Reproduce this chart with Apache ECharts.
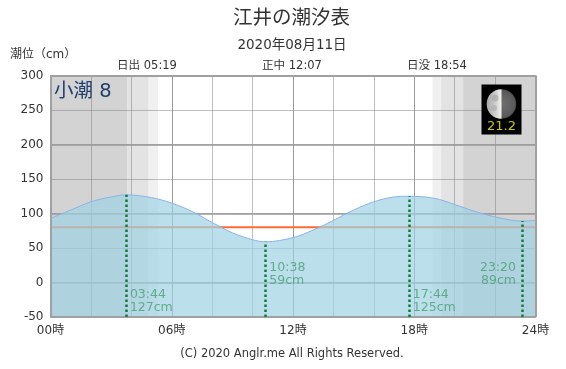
<!DOCTYPE html>
<html>
<head>
<meta charset="utf-8">
<style>
html,body{margin:0;padding:0;background:#fff;}
#main{width:566px;height:369px;}
</style>
<script src="https://cdn.jsdelivr.net/npm/echarts@6/dist/echarts.min.js"></script>
</head>
<body>
<div id="main"></div>
<script>
var FONT = '"DejaVu Sans","Noto Sans CJK JP",sans-serif';

// hours of the day, tide level in cm
var tideHours  = [0, 1, 2, 3, 3.73, 5, 6, 7, 8, 9, 10, 10.63, 12, 13, 14, 15, 16, 17, 17.73, 19, 20, 21, 22, 23.33, 24];
var tideLevels = [93, 105, 117, 124, 127, 123, 115, 103, 87, 72, 62, 59, 65, 76, 90, 105, 117, 124, 125, 122, 113, 103, 95, 89, 90];

var extremeLabels = ['03:44', '10:38', '17:44', '23:20'];
var extremeHours  = [3.73, 10.63, 17.73, 23.33];
var extremeLevels = [127, 59, 125, 89];

// twilight steps around sunrise and sunset
var morningSteps = [3.79, 4.86, 5.32];
var eveningSteps = [18.9, 19.33, 20.42];

var hourTicks = ['00時', '06時', '12時', '18時', '24時'];
var solidLevels = [0, 100, 200];
var borderLevels = [-50, 300];
var borderHours = [0, 24];
var thresholdLevel = 80;

var shades = ['#d3d3d3', '#e3e3e3', '#f0f0f0'];

var bandData = [
	[{xAxis:0, itemStyle:{color:shades[0]}}, {xAxis:morningSteps[0]}],
	[{xAxis:morningSteps[0], itemStyle:{color:shades[1]}}, {xAxis:morningSteps[1]}],
	[{xAxis:morningSteps[1], itemStyle:{color:shades[2]}}, {xAxis:morningSteps[2]}],
	[{xAxis:eveningSteps[0], itemStyle:{color:shades[2]}}, {xAxis:eveningSteps[1]}],
	[{xAxis:eveningSteps[1], itemStyle:{color:shades[1]}}, {xAxis:eveningSteps[2]}],
	[{xAxis:eveningSteps[2], itemStyle:{color:shades[0]}}, {xAxis:24}]
];

var tideData = [];
for (var i = 0; i < tideHours.length; i++) {
	tideData.push([tideHours[i], tideLevels[i]]);
}

var dropLines = [], extremeData = [];
for (var j = 0; j < extremeHours.length; j++) {
	dropLines.push([{coord:[extremeHours[j], -50]}, {coord:[extremeHours[j], extremeLevels[j]]}]);
	extremeData.push({
		// labels of the high tides sit low, the others just under the curve
		value:[extremeHours[j], extremeLevels[j] > 100 ? -27 : 12],
		name:extremeLabels[j] + '\n' + extremeLevels[j] + 'cm',
		label:{position: extremeHours[j] > 22 ? 'left' : 'right', align: extremeHours[j] > 22 ? 'right' : 'left', distance: extremeHours[j] > 22 ? 6 : 4}
	});
}

var solidLines = [];
for (var k = 0; k < solidLevels.length; k++) {
	solidLines.push({yAxis:solidLevels[k]});
}
var borderLines = [];
for (var b = 0; b < 2; b++) {
	borderLines.push({yAxis:borderLevels[b]});
	borderLines.push({xAxis:borderHours[b]});
}

function topText(str, x, y, size, color, align) {
	return {type:'text', z:20, x:x, y:y, style:{text:str, font:size + 'px ' + FONT, fill:color || '#333', textAlign:align || 'center', textVerticalAlign:'middle'}};
}

var chart = echarts.init(document.getElementById('main'), null, {renderer:'canvas'});
chart.setOption({
	animation:false,
	backgroundColor:'#fff',
	textStyle:{fontFamily:FONT},
	grid:{left:50.5, right:30.5, top:75.5, height:241.5, show:false},
	xAxis:{
		type:'value', min:0, max:24, interval:6, z:3,
		axisLine:{show:false},
		axisTick:{show:false},
		axisLabel:{
			color:'#333', fontSize:12, margin:8, fontFamily:FONT,
			formatter:function(v){ return hourTicks[v / 6]; }
		},
		splitLine:{show:true, lineStyle:{color:'#999', width:1}},
		minorTick:{show:false, splitNumber:3},
		minorSplitLine:{show:true, lineStyle:{color:'#808080', width:1, type:[1,1]}}
	},
	yAxis:{
		type:'value', min:-50, max:300, interval:50, z:3,
		axisLine:{show:false},
		axisTick:{show:false},
		axisLabel:{color:'#333', fontSize:12, margin:7, fontFamily:FONT},
		splitLine:{show:true, lineStyle:{color:'#808080', width:1, type:[1,1]}}
	},
	series:[
		{
			name:'bands', type:'line', data:[], z:1, silent:true,
			markArea:{silent:true, z:1, data:bandData}
		},
		{
			name:'levels', type:'line', data:[], z:3, silent:true,
			markLine:{silent:true, z:3, symbol:'none', label:{show:false}, lineStyle:{color:'#999', width:1.5, type:'solid'}, data:solidLines}
		},
		{
			name:'threshold', type:'line', z:4, silent:true, showSymbol:false,
			lineStyle:{color:'#ff6a33', width:2},
			data:[[0, thresholdLevel], [24, thresholdLevel]]
		},
		{
			name:'tide', type:'line', z:5, silent:true, smooth:0.35, showSymbol:false,
			lineStyle:{color:'#8ab4e8', width:1},
			areaStyle:{color:'rgba(160,210,228,0.7)', origin:'start', opacity:1},
			data:tideData
		},
		{
			name:'border', type:'line', data:[], z:7, silent:true,
			markLine:{silent:true, z:7, symbol:'none', label:{show:false}, lineStyle:{color:'#a0a0a0', width:2, type:'solid'}, data:borderLines}
		},
		{
			name:'extremes', type:'scatter', z:6, silent:true, symbolSize:0,
			label:{
				show:true, color:'#4a9f72', fontSize:12.5, lineHeight:13, distance:4, fontFamily:FONT,
				formatter:function(p){ return p.name; }
			},
			markLine:{silent:true, z:8, symbol:'none', label:{show:false}, lineStyle:{color:'#137a3e', width:2.5, type:[2.5,2.5]}, data:dropLines},
			data:extremeData
		}
	],
	graphic:[
		topText('江井の潮汐表', 291.5, 19, 19.5),
		topText('2020年08月11日', 292, 45, 13.5),
		topText('潮位（cm）', 10, 55, 12, '#333', 'left'),
		topText('日出 05:19', 147, 66, 11.5),
		topText('正中 12:07', 292, 66, 11.5),
		topText('日没 18:54', 437, 66, 11.5),
		topText('(C) 2020 Anglr.me All Rights Reserved.', 292, 354, 11.5),
		topText('小潮 8', 54, 92, 19.5, '#1f3f6f', 'left'),
		{type:'rect', z:20, shape:{x:481.5, y:84.5, width:40, height:50}, style:{fill:'#000'}},
		{type:'circle', z:21, shape:{cx:501.5, cy:104, r:14.8}, style:{fill:{type:'radial', x:0.5, y:0.5, r:0.5, colorStops:[{offset:0, color:'#707070'}, {offset:0.9, color:'#5a5a5a'}, {offset:1, color:'#404040'}]}}},
		{type:'sector', z:22, shape:{cx:501.5, cy:104, r:14.8, startAngle:Math.PI / 2, endAngle:Math.PI * 1.5}, style:{fill:{type:'linear', x:0, y:0, x2:1, y2:0, colorStops:[{offset:0, color:'#a8a8a8'}, {offset:0.6, color:'#cfcfcf'}, {offset:1, color:'#f4f4f0'}]}}},
		{type:'circle', z:23, shape:{cx:495, cy:98, r:3.5}, style:{fill:'#a8a8a8', opacity:0.7}},
		{type:'circle', z:23, shape:{cx:494, cy:108, r:3}, style:{fill:'#aeaeae', opacity:0.7}},
		topText('21.2', 501.5, 127, 13, '#c8c800')
	]
});
</script>
</body>
</html>
